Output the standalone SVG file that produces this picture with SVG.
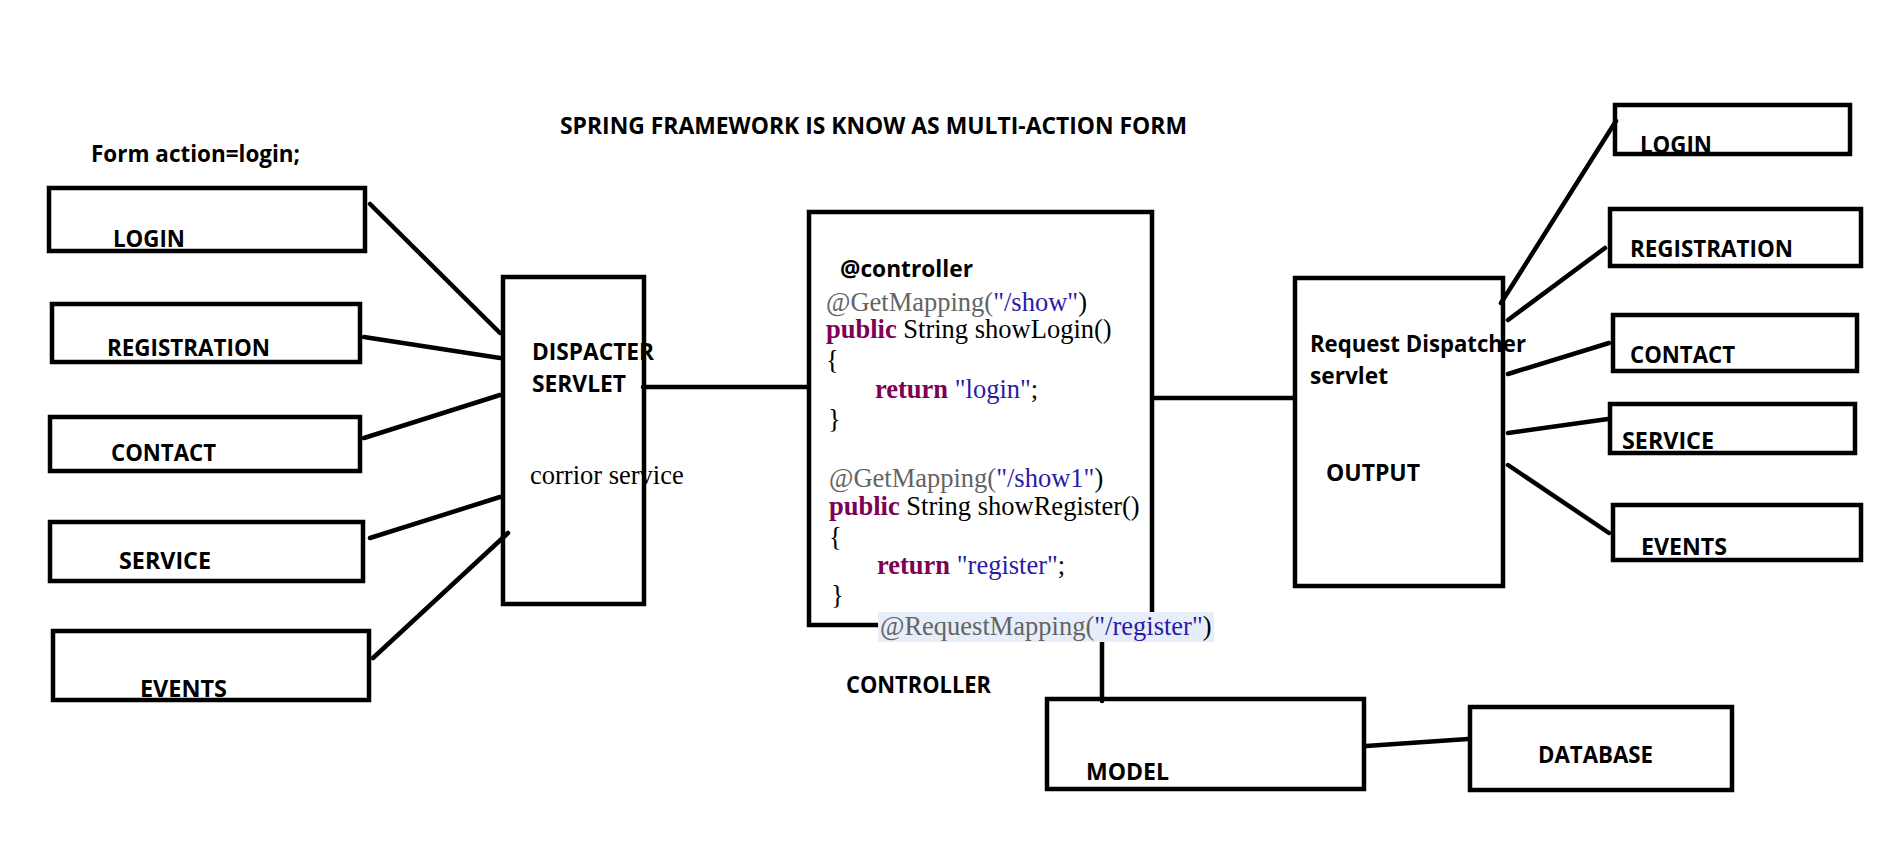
<svg xmlns="http://www.w3.org/2000/svg" width="1879" height="848" viewBox="0 0 1879 848">
<style>
.box{fill:none;stroke:#000;stroke-width:4.5}
.ln{fill:none;stroke:#000;stroke-width:4.5;stroke-linecap:round}
.lb{font-family:"Open Sans","DejaVu Sans",sans-serif;font-weight:bold;font-size:24px;fill:#000}
.cd{font-family:"Liberation Serif","Times New Roman",serif;font-size:26.5px;fill:#000}
.an{fill:#646464}
.st{fill:#2a1aa8}
.kw{fill:#7f0055;font-weight:bold}
</style>
<rect width="1879" height="848" fill="#fff"/>
<g id="title">
<text class="lb" x="560" y="134" font-size="22.5" textLength="627" lengthAdjust="spacingAndGlyphs">SPRING FRAMEWORK IS KNOW AS MULTI-ACTION FORM</text>
<text class="lb" x="91" y="162" font-size="23" textLength="209" lengthAdjust="spacingAndGlyphs">Form action=login;</text>
</g>
<g id="connectors">
<line class="ln" x1="370" y1="204" x2="500" y2="333"/>
<line class="ln" x1="364" y1="337" x2="500" y2="358"/>
<line class="ln" x1="364" y1="438" x2="500" y2="395"/>
<line class="ln" x1="370" y1="538" x2="500" y2="497"/>
<line class="ln" x1="373" y1="658" x2="508" y2="533"/>
<line class="ln" x1="643" y1="387" x2="807" y2="387"/>
<line class="ln" x1="1154" y1="398" x2="1293" y2="398"/>
<line class="ln" x1="1616" y1="121" x2="1501" y2="303"/>
<line class="ln" x1="1605" y1="248" x2="1508" y2="320"/>
<line class="ln" x1="1609" y1="343" x2="1508" y2="374"/>
<line class="ln" x1="1608" y1="419" x2="1508" y2="433"/>
<line class="ln" x1="1508" y1="465" x2="1609" y2="533"/>
<line class="ln" x1="1102" y1="642" x2="1102" y2="701"/>
<line class="ln" x1="1366" y1="746" x2="1468" y2="739"/>
</g>
<g id="login-l"><rect class="box" x="49" y="188" width="316" height="63"/><text class="lb" x="113" y="247" textLength="72" lengthAdjust="spacingAndGlyphs">LOGIN</text></g>
<g id="registration-l"><rect class="box" x="52" y="304" width="308" height="58"/><text class="lb" x="107" y="356" textLength="163" lengthAdjust="spacingAndGlyphs">REGISTRATION</text></g>
<g id="contact-l"><rect class="box" x="50" y="417" width="310" height="54"/><text class="lb" x="111" y="461" textLength="105" lengthAdjust="spacingAndGlyphs">CONTACT</text></g>
<g id="service-l"><rect class="box" x="50" y="522" width="313" height="59"/><text class="lb" x="119" y="569" textLength="92" lengthAdjust="spacingAndGlyphs">SERVICE</text></g>
<g id="events-l"><rect class="box" x="53" y="631" width="316" height="69"/><text class="lb" x="140" y="697" textLength="87" lengthAdjust="spacingAndGlyphs">EVENTS</text></g>
<g id="dispatcher">
<rect class="box" x="503" y="277" width="141" height="327"/>
<text class="lb" x="532" y="360" textLength="122" lengthAdjust="spacingAndGlyphs">DISPACTER</text>
<text class="lb" x="532" y="392" textLength="94" lengthAdjust="spacingAndGlyphs">SERVLET</text>
<text class="cd" x="530" y="484" font-size="27">corrior service</text>
</g>
<g id="controller">
<rect class="box" x="809" y="212" width="343" height="413"/>
<rect x="878" y="612" width="336" height="30" fill="#e6eef9"/>
<text class="lb" x="840" y="277" textLength="133" lengthAdjust="spacingAndGlyphs">@controller</text>
<text class="cd" x="826" y="311"><tspan class="an">@GetMapping(</tspan><tspan class="st">"/show"</tspan>)</text>
<text class="cd" x="826" y="338"><tspan class="kw">public</tspan> String showLogin()</text>
<text class="cd" x="826" y="369">{</text>
<text class="cd" x="875" y="398"><tspan class="kw">return</tspan> <tspan class="st">"login"</tspan>;</text>
<text class="cd" x="828" y="428">}</text>
<text class="cd" x="829" y="487"><tspan class="an">@GetMapping(</tspan><tspan class="st">"/show1"</tspan>)</text>
<text class="cd" x="829" y="515"><tspan class="kw">public</tspan> String showRegister()</text>
<text class="cd" x="829" y="546">{</text>
<text class="cd" x="877" y="574"><tspan class="kw">return</tspan> <tspan class="st">"register"</tspan>;</text>
<text class="cd" x="831" y="604">}</text>
<text class="cd" x="880" y="635"><tspan class="an">@RequestMapping(</tspan><tspan class="st">"/register"</tspan>)</text>
<text class="lb" x="846" y="693" textLength="145" lengthAdjust="spacingAndGlyphs">CONTROLLER</text>
</g>
<g id="request-dispatcher">
<rect class="box" x="1295" y="278" width="208" height="308"/>
<text class="lb" x="1310" y="352" textLength="216" lengthAdjust="spacingAndGlyphs">Request Dispatcher</text>
<text class="lb" x="1310" y="384" textLength="78" lengthAdjust="spacingAndGlyphs">servlet</text>
<text class="lb" x="1326" y="481" textLength="94" lengthAdjust="spacingAndGlyphs">OUTPUT</text>
</g>
<g id="login-r"><rect class="box" x="1615" y="105" width="235" height="49"/><text class="lb" x="1640" y="153" textLength="72" lengthAdjust="spacingAndGlyphs">LOGIN</text></g>
<g id="registration-r"><rect class="box" x="1610" y="209" width="251" height="57"/><text class="lb" x="1630" y="257" textLength="163" lengthAdjust="spacingAndGlyphs">REGISTRATION</text></g>
<g id="contact-r"><rect class="box" x="1613" y="315" width="244" height="56"/><text class="lb" x="1630" y="363" textLength="105" lengthAdjust="spacingAndGlyphs">CONTACT</text></g>
<g id="service-r"><rect class="box" x="1610" y="404" width="245" height="49"/><text class="lb" x="1622" y="449" textLength="92" lengthAdjust="spacingAndGlyphs">SERVICE</text></g>
<g id="events-r"><rect class="box" x="1613" y="505" width="248" height="55"/><text class="lb" x="1641" y="555" textLength="86" lengthAdjust="spacingAndGlyphs">EVENTS</text></g>
<g id="model"><rect class="box" x="1047" y="699" width="317" height="90"/><text class="lb" x="1086" y="780" textLength="83" lengthAdjust="spacingAndGlyphs">MODEL</text></g>
<g id="database"><rect class="box" x="1470" y="707" width="262" height="83"/><text class="lb" x="1538" y="763" textLength="115" lengthAdjust="spacingAndGlyphs">DATABASE</text></g>
</svg>
